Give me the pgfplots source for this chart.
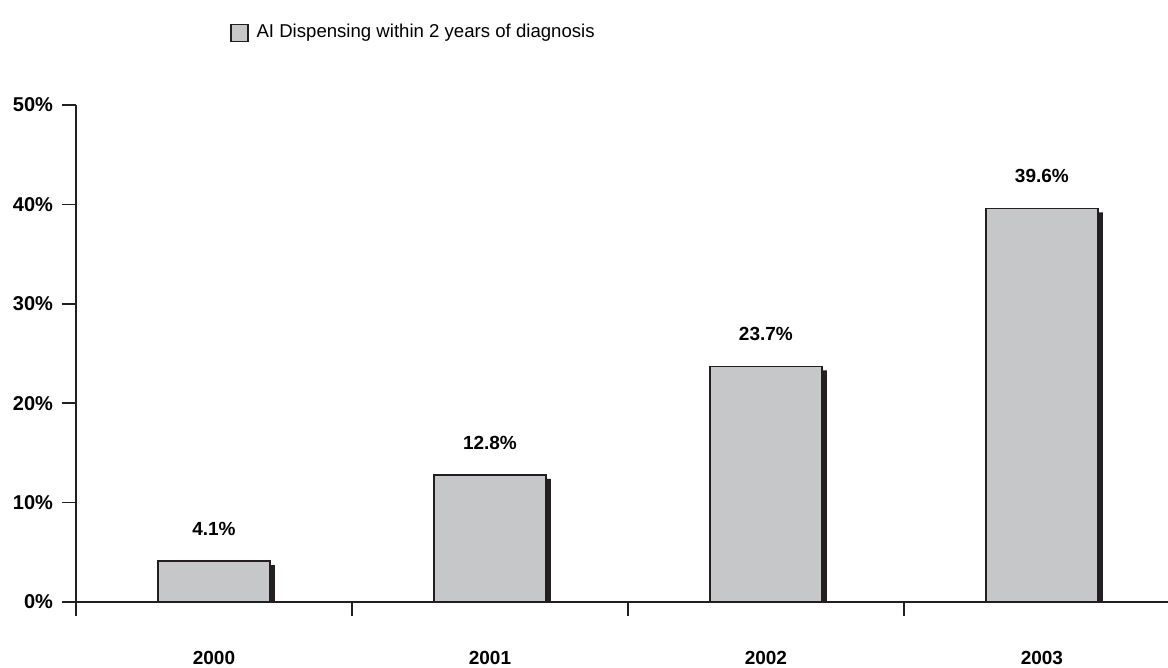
\documentclass[border=0pt]{standalone}
\usepackage{fontspec}
\setmainfont{Liberation Sans}
\usepackage{pgfplots}
\pgfplotsset{compat=1.18}

\definecolor{barfill}{HTML}{C6C7C8}
\definecolor{shade}{HTML}{231F20}

\begin{document}
\begin{tikzpicture}
% page = 1168x668 px at 0.5pt per px; axis box south west at (0,0)
\useasboundingbox (-38pt,-33pt) rectangle (546pt,301pt);
\begin{axis}[
    scale only axis,
    width=546pt, height=248.5pt,
    xmin=-0.5, xmax=3.457,
    ymin=0, ymax=50,
    axis lines=left,
    axis line style={-, line width=0.8pt, color=shade},
    clip=true,
    xtick={-0.5,0.5,1.5,2.5},
    xticklabels={},
    extra x ticks={0,1,2,3},
    extra x tick labels={2000,2001,2002,2003},
    extra x tick style={major tick length=0pt,
        xticklabel style={font=\bfseries\fontsize{9.5}{10}\selectfont, yshift=-21pt}},
    ytick={0,10,20,30,40,50},
    yticklabels={0\%,10\%,20\%,30\%,40\%,50\%},
    tick align=outside,
    major tick length=7pt,
    tick style={line width=0.8pt, color=shade},
    yticklabel style={font=\bfseries\fontsize{10}{11}\selectfont, xshift=-1pt},
    /pgf/number format/assume math mode=true,
    legend style={at={(axis description cs:0.141,1.171)}, anchor=north west,
        draw=none, fill=none, inner sep=0pt,
        font=\fontsize{9.3}{10}\selectfont,
        /tikz/every even column/.append style={column sep=0pt}},
    legend image code/.code={
        \draw[fill=barfill, draw=shade, line width=0.6pt]
            (0pt,-4.25pt) rectangle (8.5pt,4.25pt);},
    legend cell align=left,
    legend style={nodes={inner xsep=4pt}},
]
% shadow behind each bar
\addplot[ybar, bar width=56pt, bar shift=0pt, fill=shade, draw=none,
    xshift=2.5pt, yshift=-2pt, forget plot]
coordinates {(0,4.1) (1,12.8) (2,23.7) (3,39.6)};
% bars
\addplot[ybar, bar width=56pt, bar shift=0pt, fill=barfill, draw=shade,
    line width=0.8pt,
    nodes near coords={\pgfmathprintnumber[fixed,precision=1,fixed zerofill]{\pgfplotspointmeta}\%},
    every node near coord/.append style={font=\bfseries\fontsize{9.5}{10}\selectfont,
        anchor=south, yshift=9pt}]
coordinates {(0,4.1) (1,12.8) (2,23.7) (3,39.6)};
\addlegendentry{AI Dispensing within 2 years of diagnosis}
\end{axis}
\end{tikzpicture}
\end{document}
